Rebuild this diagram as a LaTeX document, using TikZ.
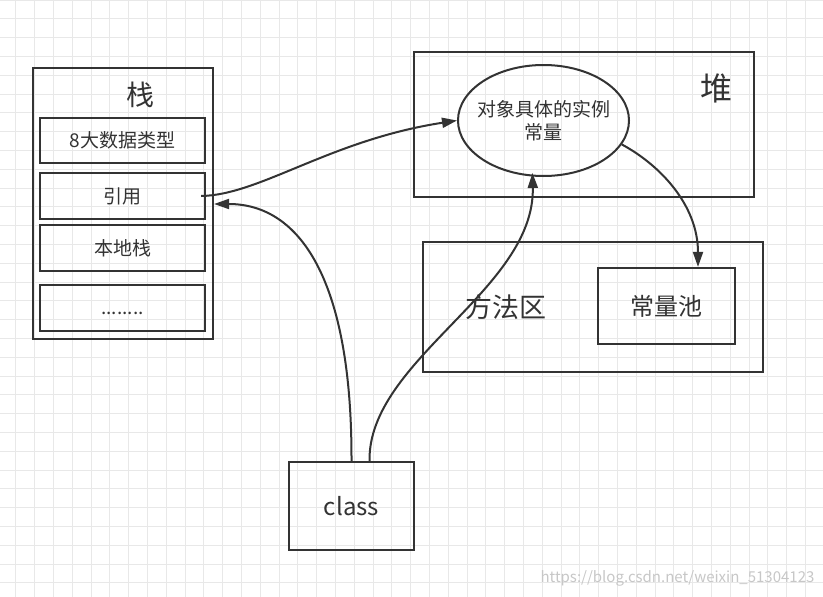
\documentclass[tikz,border=0pt]{standalone}
\usepackage{fontspec}
\setmainfont{Noto Sans CJK SC}
\usetikzlibrary{arrows.meta,shapes.geometric}

\begin{document}
\begin{tikzpicture}[x=1pt,y=-1pt,
  box/.style={draw=black!80,line width=2.2pt,inner sep=0pt,text=black!80},
  link/.style={draw=black!80,line width=2pt,-{Triangle[length=15pt,width=10pt]}},
  celltext/.style={font=\fontsize{19}{23}\selectfont,text=black!80}]
\useasboundingbox (0,0) rectangle (823,597);
\fill[white] (0,0) rectangle (823,597);
% grid
\foreach \i in {0,...,43} {\draw[black!9,line width=0.9pt] ({15.8+\i*18.8},0) -- ({15.8+\i*18.8},597);}
\foreach \j in {0,...,31} {\draw[black!9,line width=0.9pt] (0,{\j*18.8}) -- (823,{\j*18.8});}
% stack
\node[box,minimum width=179.7pt,minimum height=271pt] (stack) at (122.8,203.5) {};
\node[text=black!80,font=\fontsize{28}{28}\selectfont] (stacktitle) at (140,95) {栈};
\node[box,celltext,minimum width=165pt,minimum height=45pt] (prim) at (122.5,140.5) {8大数据类型};
\node[box,celltext,minimum width=165pt,minimum height=46pt] (ref) at (122.5,196) {引用};
\node[box,celltext,minimum width=165pt,minimum height=46pt] (native) at (122.5,248) {本地栈};
\node[box,celltext,minimum width=165pt,minimum height=46pt] (more) at (122.5,308) {\vphantom{8}........};
% heap
\node[box,minimum width=340pt,minimum height=145pt] (heap) at (584,124.5) {};
\node[text=black!80,font=\fontsize{32}{32}\selectfont] (heaptitle) at (716,88.5) {堆};
\node[box,celltext,ellipse,line width=2pt,inner xsep=-6.5pt,minimum width=171pt,minimum height=111pt,align=center] (obj) at (543.5,120.5) {对象具体的实例\\常量};
% method area
\node[box,minimum width=340pt,minimum height=130pt] (method) at (593,307) {};
\node[text=black!80,font=\fontsize{27}{27}\selectfont] (methodtitle) at (506,307.5) {方法区};
\node[box,font=\fontsize{24}{24}\selectfont,minimum width=137pt,minimum height=76pt] (pool) at (666.5,306) {常量池};
% class
\node[box,font=\fontsize{24}{24}\selectfont,minimum width=125pt,minimum height=88pt] (cls) at (351.5,506) {class};
% links
\draw[link] ([xshift=-5pt]ref.east) .. controls (260,195) and (330,140) .. (obj.west);
\draw[link] (cls.north) .. controls (352,280) and (300,204) .. ([xshift=8pt,yshift=-8pt]ref.east);
\draw[link] ([xshift=18pt]cls.north) .. controls (368,360) and (535,290) .. ([xshift=-11pt,yshift=4pt]obj.south);
\draw[link] (obj.-17) .. controls (660,165) and (698,205) .. ([xshift=31.5pt]pool.north);
\node[text=black!22,font=\fontsize{15}{15}\selectfont] (wm) at (677.5,578) {https://blog.csdn.net/weixin\_51304123};
\end{tikzpicture}
\end{document}
